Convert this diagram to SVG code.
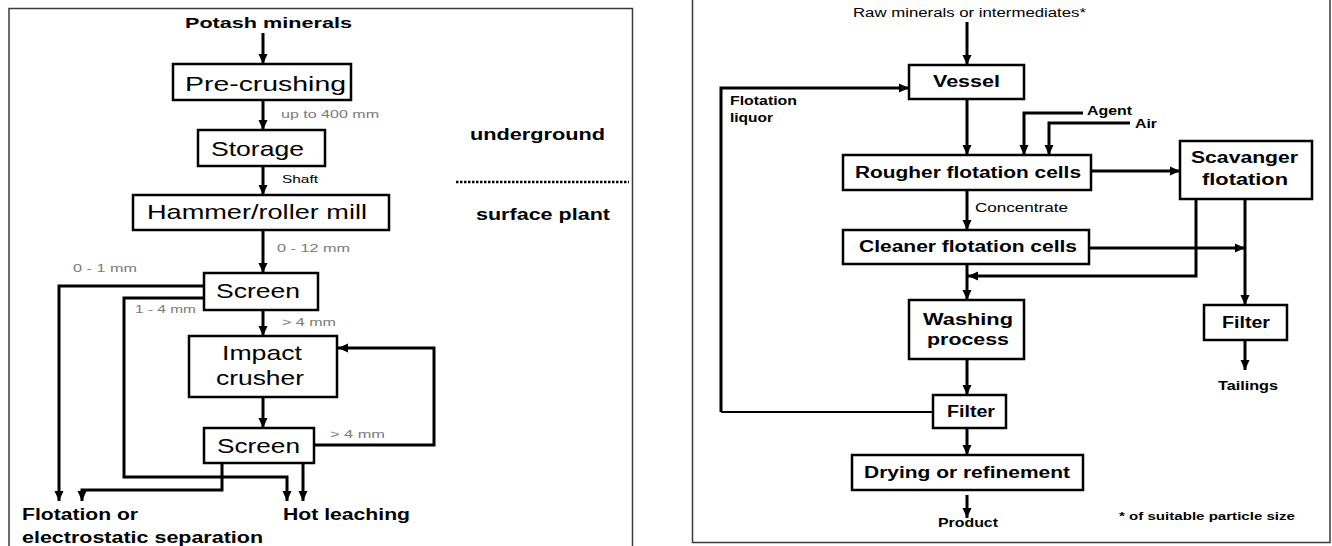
<svg xmlns="http://www.w3.org/2000/svg" width="1332" height="546" viewBox="0 0 1332 546">
<style>
.panel{fill:none;stroke:#3a3a3a;stroke-width:1.5}
.box{fill:#fff;stroke:#000;stroke-width:2.5}
.c2{fill:none;stroke:#000;stroke-width:2}
.ca{fill:none;stroke:#000;stroke-width:3;marker-end:url(#ah)}
text{font-family:"Liberation Sans",Arial,sans-serif;fill:#000}
.big{font-size:21px}
.b{font-weight:bold}
.g{font-size:11px;fill:#7a7a7a}
.s{font-size:11px}
</style>
<defs>
<marker id="ah" markerUnits="userSpaceOnUse" markerWidth="11" markerHeight="11" refX="10" refY="5.5" orient="auto">
<path d="M0,1 L10,5.5 L0,10 z" fill="#000"/>
</marker>
</defs>
<rect width="1332" height="546" fill="#fff"/>
<g id="panels">
<path class="panel" d="M9,560 V8.5 H632.5 V560"/>
<path class="panel" d="M692.5,-5 V542.5 H1330 V-5"/>
</g>
<g id="connectors">
<line class="ca" x1="263" y1="33" x2="263" y2="64"/>
<line class="ca" x1="263" y1="100" x2="263" y2="130"/>
<line class="ca" x1="263" y1="166" x2="263" y2="195"/>
<line class="ca" x1="263" y1="230" x2="263" y2="273"/>
<line class="ca" x1="263" y1="310" x2="263" y2="336"/>
<line class="ca" x1="263" y1="397" x2="263" y2="428"/>
<path class="ca" d="M204,286 H59 V501"/>
<path class="ca" d="M204,298 H124 V477 H287 V501"/>
<path class="ca" d="M222,463 V490 H82 V501"/>
<path class="ca" d="M303,463 V501"/>
<path class="ca" d="M314,445 H434 V348 H338"/>
<line x1="456" y1="182" x2="629" y2="182" stroke="#000" stroke-width="2.5" stroke-dasharray="2.5,1.5"/>
<line class="ca" x1="967" y1="22" x2="967" y2="65"/>
<line class="ca" x1="967" y1="99" x2="967" y2="155"/>
<path class="ca" d="M721,412 V88 H909"/>
<path class="c2" d="M721,412 H933"/>
<path class="ca" d="M1083,113 H1024 V155"/>
<path class="ca" d="M1130,123 H1049 V155"/>
<line class="ca" x1="1091" y1="171" x2="1180" y2="171"/>
<line class="ca" x1="967" y1="190" x2="967" y2="230"/>
<line class="ca" x1="1089" y1="248" x2="1245" y2="248"/>
<path class="ca" d="M1196,199 V276 H968"/>
<line class="ca" x1="1245" y1="199" x2="1245" y2="305"/>
<line class="ca" x1="967" y1="264" x2="967" y2="300"/>
<line class="ca" x1="967" y1="359" x2="967" y2="395"/>
<line class="ca" x1="967" y1="428" x2="967" y2="455"/>
<line class="ca" x1="967" y1="495" x2="967" y2="518"/>
<line class="ca" x1="1245" y1="340" x2="1245" y2="370"/>
</g>
<g id="labels">
<text class="b" x="185" y="28" font-size="15" textLength="167" lengthAdjust="spacingAndGlyphs">Potash minerals</text>
<text class="g" x="281" y="118" textLength="98" lengthAdjust="spacingAndGlyphs">up to 400 mm</text>
<text class="s" x="282" y="183" textLength="36" lengthAdjust="spacingAndGlyphs">Shaft</text>
<text class="g" x="277" y="252" textLength="73" lengthAdjust="spacingAndGlyphs">0 - 12 mm</text>
<text class="g" x="73" y="272" textLength="64" lengthAdjust="spacingAndGlyphs">0 - 1 mm</text>
<text class="g" x="135" y="313" textLength="61" lengthAdjust="spacingAndGlyphs">1 - 4 mm</text>
<text class="g" x="282" y="326" textLength="54" lengthAdjust="spacingAndGlyphs">&gt; 4 mm</text>
<text class="g" x="330" y="438" textLength="55" lengthAdjust="spacingAndGlyphs">&gt; 4 mm</text>
<text class="b" x="22" y="520" font-size="16" textLength="116" lengthAdjust="spacingAndGlyphs">Flotation or</text>
<text class="b" x="22" y="543" font-size="16" textLength="241" lengthAdjust="spacingAndGlyphs">electrostatic separation</text>
<text class="b" x="283" y="520" font-size="16" textLength="127" lengthAdjust="spacingAndGlyphs">Hot leaching</text>
<text class="b" x="470" y="140" font-size="16" textLength="135" lengthAdjust="spacingAndGlyphs">underground</text>
<text class="b" x="476" y="220" font-size="16" textLength="134" lengthAdjust="spacingAndGlyphs">surface plant</text>
<text x="853" y="17" font-size="12.5" textLength="233" lengthAdjust="spacingAndGlyphs">Raw minerals or intermediates*</text>
<text class="b" x="730" y="105" font-size="13" textLength="67" lengthAdjust="spacingAndGlyphs">Flotation</text>
<text class="b" x="730" y="122" font-size="13" textLength="43" lengthAdjust="spacingAndGlyphs">liquor</text>
<text class="b" x="1087" y="115" font-size="12.5" textLength="45" lengthAdjust="spacingAndGlyphs">Agent</text>
<text class="b" x="1135" y="128" font-size="12.5" textLength="22" lengthAdjust="spacingAndGlyphs">Air</text>
<text x="975" y="212" font-size="13" textLength="93" lengthAdjust="spacingAndGlyphs">Concentrate</text>
<text class="b" x="938" y="527" font-size="13" textLength="60" lengthAdjust="spacingAndGlyphs">Product</text>
<text class="b" x="1218" y="390" font-size="13" textLength="60" lengthAdjust="spacingAndGlyphs">Tailings</text>
<text class="b" x="1119" y="520" font-size="11.5" textLength="176" lengthAdjust="spacingAndGlyphs">* of suitable particle size</text>
</g>
<g id="pre-crushing"><rect class="box" x="173" y="64" width="178" height="36"/><text class="big" x="185" y="91" textLength="161" lengthAdjust="spacingAndGlyphs">Pre-crushing</text></g>
<g id="storage"><rect class="box" x="198" y="130" width="127" height="36"/><text class="big" x="211" y="156" textLength="93" lengthAdjust="spacingAndGlyphs">Storage</text></g>
<g id="hammer-mill"><rect class="box" x="133" y="195" width="256" height="35"/><text class="big" x="147" y="219" textLength="220" lengthAdjust="spacingAndGlyphs">Hammer/roller mill</text></g>
<g id="screen1"><rect class="box" x="204" y="273" width="114" height="37"/><text class="big" x="216" y="298" textLength="84" lengthAdjust="spacingAndGlyphs">Screen</text></g>
<g id="impact-crusher"><rect class="box" x="189" y="336" width="148" height="61"/><text class="big" x="222" y="360" textLength="80" lengthAdjust="spacingAndGlyphs">Impact</text><text class="big" x="216" y="385" textLength="88" lengthAdjust="spacingAndGlyphs">crusher</text></g>
<g id="screen2"><rect class="box" x="204" y="428" width="110" height="35"/><text class="big" x="217" y="453" textLength="83" lengthAdjust="spacingAndGlyphs">Screen</text></g>
<g id="vessel"><rect class="box" x="909" y="65" width="115" height="34"/><text class="b" x="933" y="87" font-size="17" textLength="67" lengthAdjust="spacingAndGlyphs">Vessel</text></g>
<g id="rougher"><rect class="box" x="843" y="155" width="248" height="35"/><text class="b" x="855" y="178" font-size="16" textLength="226" lengthAdjust="spacingAndGlyphs">Rougher flotation cells</text></g>
<g id="scavanger"><rect class="box" x="1180" y="141" width="132" height="58"/><text class="b" x="1191" y="163" font-size="16" textLength="107" lengthAdjust="spacingAndGlyphs">Scavanger</text><text class="b" x="1202" y="185" font-size="16" textLength="86" lengthAdjust="spacingAndGlyphs">flotation</text></g>
<g id="cleaner"><rect class="box" x="843" y="230" width="246" height="34"/><text class="b" x="859" y="252" font-size="16" textLength="218" lengthAdjust="spacingAndGlyphs">Cleaner flotation cells</text></g>
<g id="washing"><rect class="box" x="909" y="300" width="115" height="59"/><text class="b" x="923" y="325" font-size="16" textLength="90" lengthAdjust="spacingAndGlyphs">Washing</text><text class="b" x="927" y="345" font-size="16" textLength="82" lengthAdjust="spacingAndGlyphs">process</text></g>
<g id="filter"><rect class="box" x="933" y="395" width="73" height="33"/><text class="b" x="947" y="417" font-size="16" textLength="48" lengthAdjust="spacingAndGlyphs">Filter</text></g>
<g id="drying"><rect class="box" x="852" y="455" width="231" height="35"/><text class="b" x="864" y="478" font-size="17" textLength="206" lengthAdjust="spacingAndGlyphs">Drying or refinement</text></g>
<g id="filter2"><rect class="box" x="1204" y="305" width="83" height="35"/><text class="b" x="1222" y="328" font-size="16" textLength="48" lengthAdjust="spacingAndGlyphs">Filter</text></g>
</svg>
